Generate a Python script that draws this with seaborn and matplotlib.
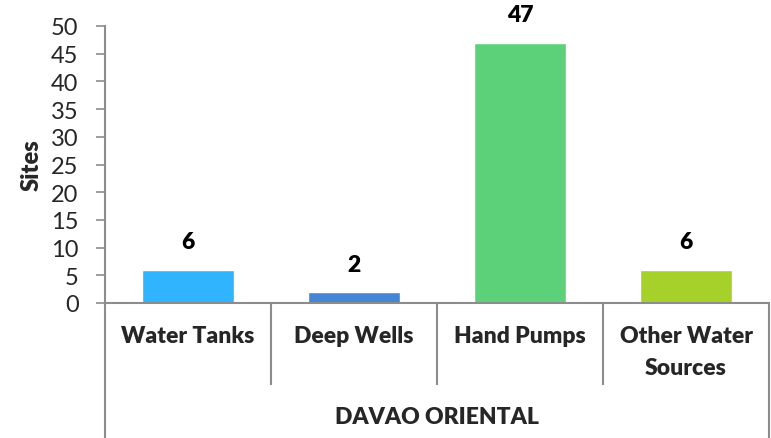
import matplotlib
matplotlib.use("Agg")
import matplotlib.pyplot as plt
import matplotlib.transforms as mtransforms
import pandas as pd
import seaborn as sns

categories = ["Water Tanks", "Deep Wells", "Hand Pumps", "Other Water\nSources"]
sites = [6, 2, 47, 6]
bar_colors = ["#31B4FE", "#4485D6", "#5CD17A", "#A6D12B"]
group_label = "DAVAO ORIENTAL"
y_ticks = list(range(0, 55, 5))

W, H = 771, 439
ax_left, ax_right, ax_top, ax_bottom = 105, 769, 27, 304
GRAY = "#8C8C8C"

sns.set_theme(style="white")
plt.rcParams["font.family"] = ["Lato", "DejaVu Sans"]

df = pd.DataFrame({"category": categories, "sites": sites})

fig = plt.figure(figsize=(W / 100, H / 100), dpi=100)
ax = fig.add_axes([ax_left / W, 1 - ax_bottom / H,
                   (ax_right - ax_left) / W, (ax_bottom - ax_top) / H])

sns.barplot(data=df, x="category", y="sites", hue="category",
            palette=bar_colors, width=0.555, legend=False, ax=ax,
            saturation=1)

ax.set_ylim(0, 50)
ax.set_xlim(-0.5, len(categories) - 0.5)
ax.set_yticks(y_ticks)
ax.tick_params(axis="y", labelsize=17, length=6.5, width=1.2, color=GRAY,
               direction="out", pad=12.5, left=True)
ax.tick_params(axis="x", bottom=False, labelbottom=False)
ax.set_xlabel("")
ax.set_ylabel("Sites", fontsize=17, fontweight="heavy", labelpad=6)

for s in ["top", "right"]:
    ax.spines[s].set_visible(False)
for s in ["left", "bottom"]:
    ax.spines[s].set_color(GRAY)
    ax.spines[s].set_linewidth(1.5)

for i, v in enumerate(sites):
    ax.annotate(str(v), (i, v), xytext=(0, 20), textcoords="offset points",
                ha="center", va="center", fontsize=16.5, fontweight="heavy",
                color="black")

# multi-level category axis
def py(pixel_y):
    return -(pixel_y - ax_bottom) / (ax_bottom - ax_top)

trans = mtransforms.blended_transform_factory(ax.transData, ax.transAxes)
n = len(categories)
for k in range(n + 1):
    x = k - 0.5
    bottom = py(H + 5) if k in (0, n) else py(386)
    ax.plot([x, x], [0, bottom], color=GRAY, lw=1.5, transform=trans,
            clip_on=False, solid_capstyle="butt")

for i, c in enumerate(categories):
    ax.text(i, py(326), c, ha="center", va="top", transform=trans,
            fontsize=16.5, fontweight="heavy", linespacing=1.65)

ax.text((n - 1) / 2, py(418), group_label, ha="center", va="center",
        transform=trans, fontsize=16.5, fontweight="heavy")

fig.savefig("out.png", dpi=100)
